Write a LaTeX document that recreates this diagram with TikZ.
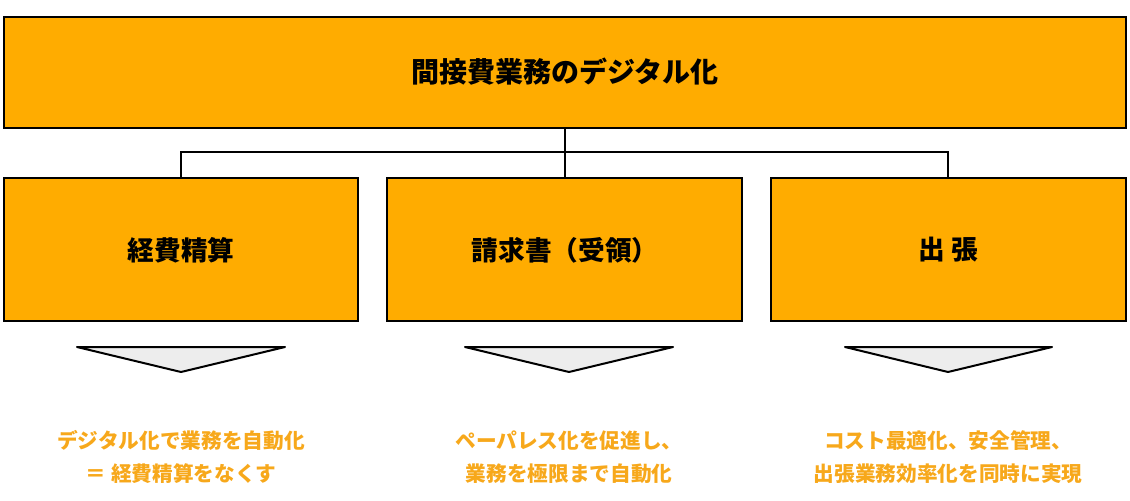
\documentclass[tikz,border=0pt]{standalone}
\usepackage{fontspec}
\setmainfont{Noto Sans CJK JP}
\definecolor{boxor}{HTML}{FFAC00}
\definecolor{txtor}{HTML}{F7A81B}
\definecolor{trig}{HTML}{EDEDED}
\begin{document}
\begin{tikzpicture}[x=0.75pt,y=-0.75pt,
  box/.style={draw=black,line width=2.2pt,fill=boxor},
  lab/.style={font=\bfseries\fontsize{20}{24}\selectfont},
  conn/.style={draw=black,line width=0.8pt},
  tri/.style={draw=black,line width=1.5pt,fill=trig,line join=round},
  res/.style={text=txtor,font=\bfseries\fontsize{15.5}{25}\selectfont,align=center}]
\useasboundingbox (0,0) rectangle (1130,500);
\draw[box] (4,17) rectangle (1126,128);
\node[font=\bfseries\fontsize{21}{24}\selectfont] (top) at (565,72) {間接費業務のデジタル化};
\coordinate (tb) at (565,128);
\coordinate (jn) at (565,152);
\foreach \n/\a/\b/\c/\t in {A/4/358/181/経費精算, B/387/742/565/請求書（受領）, C/771/1126/948/出 張}{
  \draw[box] (\a,178) rectangle (\b,321);
  \node[lab] (\n) at (\c,250) {\t};
  \coordinate (\n t) at (\c,178);
}
\draw[conn] (tb) -- (jn);
\draw[conn] (At) |- (jn) -| (Ct);
\draw[conn] (jn) -- (Bt);
\foreach \l/\r/\m [count=\i] in {77/285/181, 465/673/569, 845/1052/948}{
  \draw[tri] (\l,347) -- (\r,347) -- (\m,372) -- cycle;
}
\node[res] (r1) at (181,457) {デジタル化で業務を自動化\\＝ 経費精算をなくす};
\node[res] (r2) at (569,457) {ペーパレス化を促進し、\\業務を極限まで自動化};
\node[res] (r3) at (948,457) {コスト最適化、安全管理、\\出張業務効率化を同時に実現};
\end{tikzpicture}
\end{document}
